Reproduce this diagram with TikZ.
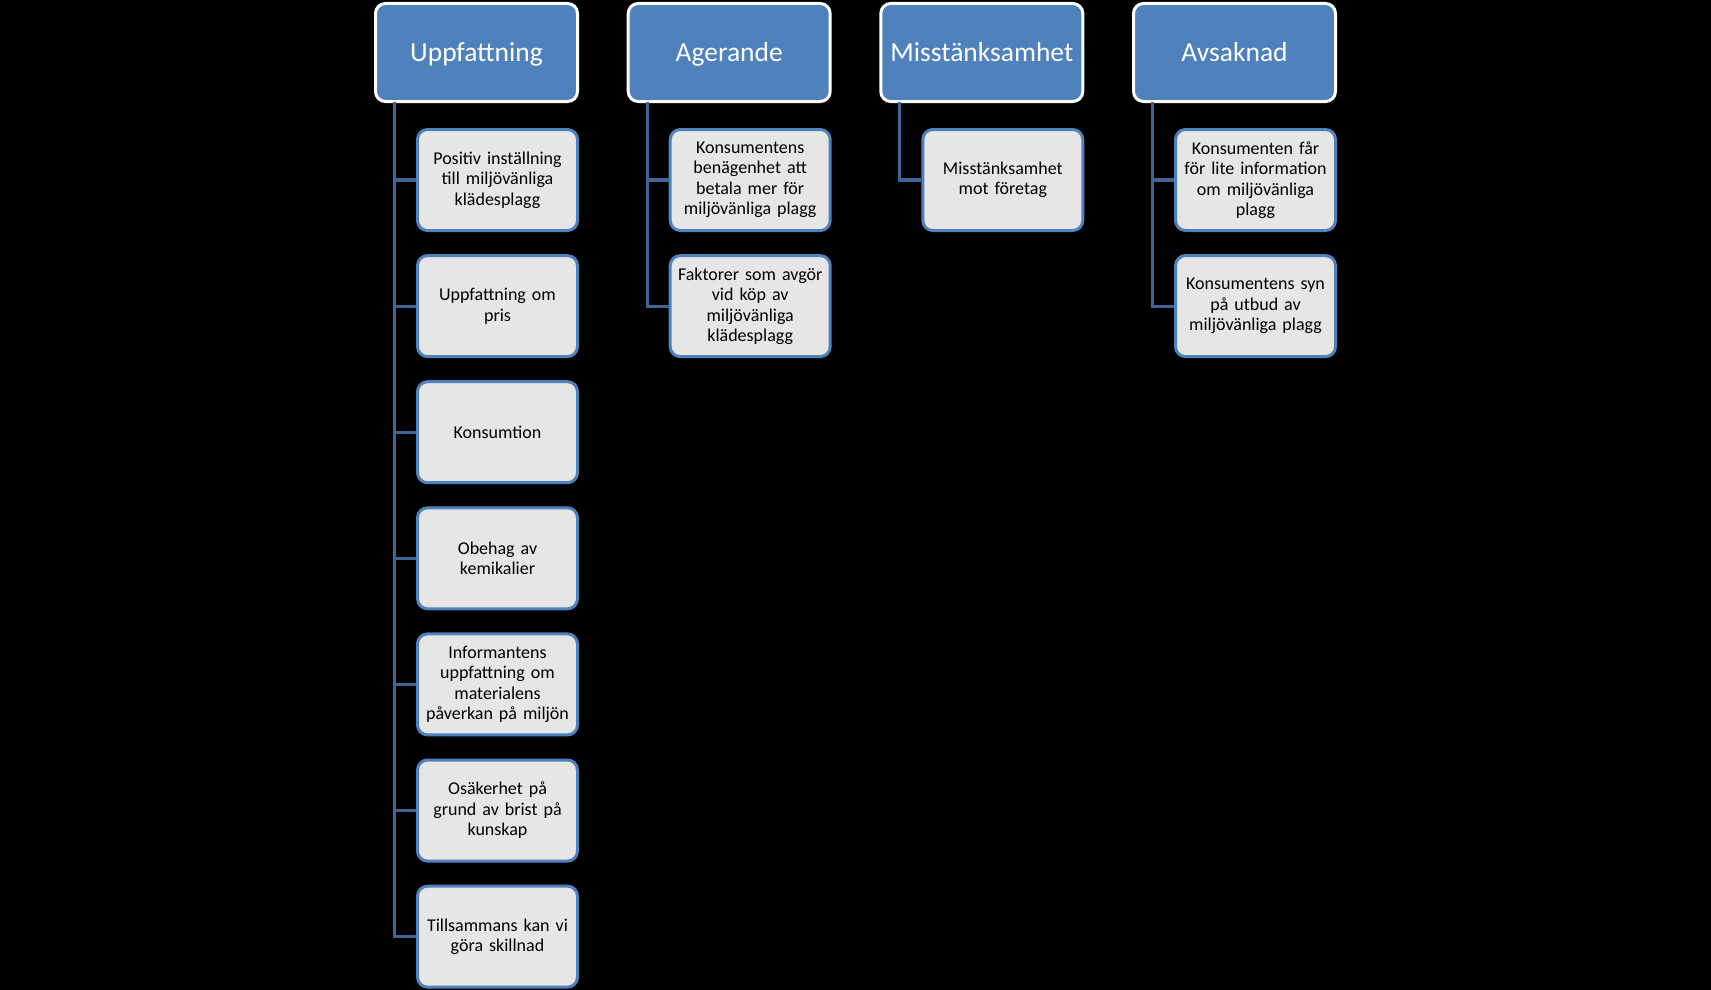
\documentclass[tikz,border=0pt]{standalone}
\usepackage{fontspec}
\setmainfont{Carlito}
\usetikzlibrary{calc}
\definecolor{topblue}{RGB}{79,129,189}
\definecolor{childgray}{RGB}{230,230,230}
\definecolor{linkblue}{RGB}{63,100,150}
\tikzset{
  headbox/.style={draw=white, line width=3pt, fill=topblue, rounded corners=10pt,
    minimum width=202pt, minimum height=98pt, text=white, align=center,
    font=\fontsize{27.5pt}{32pt}\selectfont, inner sep=0pt, text height=24pt, text depth=5pt},
  leafbox/.style={draw=topblue, line width=3pt, fill=childgray, rounded corners=10pt,
    minimum width=160pt, minimum height=101pt, text=black, align=center, text width=154pt,
    font=\fontsize{18pt}{20.5pt}\selectfont, inner sep=0pt},
  link/.style={draw=linkblue, line width=3.2pt}
}
\begin{document}
\begin{tikzpicture}[x=1pt,y=-1pt]
\fill[black] (0,0) rectangle (1711,990);
\useasboundingbox (0,0) rectangle (1711,990);
% column 1
\node[headbox] (h1) at (476.5,52.5) {Uppfattning};
\node[leafbox] (a1) at (497.5,180) {Positiv inställning\\till miljövänliga\\klädesplagg};
\node[leafbox] (a2) at (497.5,306.1) {Uppfattning om\\pris};
\node[leafbox] (a3) at (497.5,432.2) {Konsumtion};
\node[leafbox] (a4) at (497.5,558.3) {Obehag av\\kemikalier};
\node[leafbox] (a5) at (497.5,684.4) {Informantens\\uppfattning om\\materialens\\påverkan på miljön};
\node[leafbox] (a6) at (497.5,810.5) {Osäkerhet på\\grund av brist på\\kunskap};
\node[leafbox] (a7) at (497.5,936.6) {Tillsammans kan vi\\göra skillnad};
% column 2
\node[headbox] (h2) at (729.2,52.5) {Agerande};
\node[leafbox] (b1) at (750.2,180) {Konsumentens\\benägenhet att\\betala mer för\\miljövänliga plagg};
\node[leafbox] (b2) at (750.2,306.1) {Faktorer som avgör\\vid köp av\\miljövänliga\\klädesplagg};
% column 3
\node[headbox] (h3) at (981.8,52.5) {Misstänksamhet};
\node[leafbox] (c1) at (1002.8,180) {Misstänksamhet\\mot företag};
% column 4
\node[headbox] (h4) at (1234.5,52.5) {Avsaknad};
\node[leafbox] (d1) at (1255.5,180) {Konsumenten får\\för lite information\\om miljövänliga\\plagg};
\node[leafbox] (d2) at (1255.5,306.1) {Konsumentens syn\\på utbud av\\miljövänliga plagg};
% connectors
\foreach \c in {a1,a2,a3,a4,a5,a6,a7}{
  \draw[link] ($(h1.south west)+(20.5,-1.5)$) |- (\c.west);
}
\foreach \c in {b1,b2}{
  \draw[link] ($(h2.south west)+(20.5,-1.5)$) |- (\c.west);
}
\draw[link] ($(h3.south west)+(20.5,-1.5)$) |- (c1.west);
\foreach \c in {d1,d2}{
  \draw[link] ($(h4.south west)+(20.5,-1.5)$) |- (\c.west);
}
\end{tikzpicture}
\end{document}
